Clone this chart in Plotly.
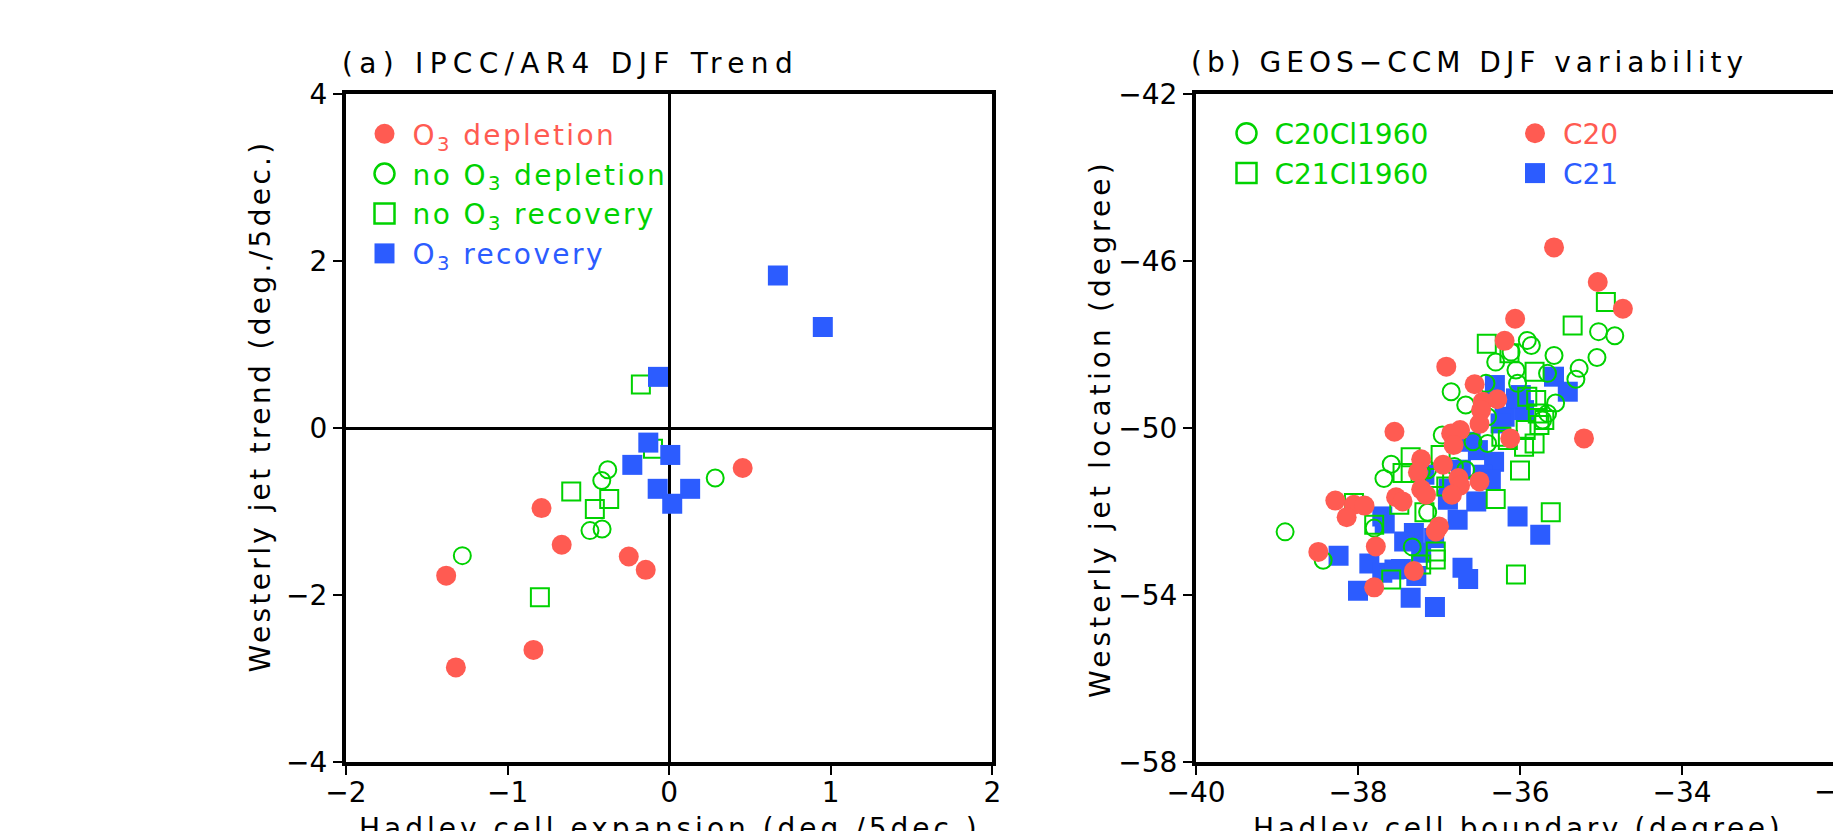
import json
import plotly.graph_objects as go

W, H = 1833, 831
FONT = "DejaVu Sans"
FS = 28
RED = "#FF5B52"
BLUE = "#2C5CFF"
GREEN = "#00D200"

# ---------------- panel (a): IPCC/AR4 DJF trend ----------------
a_depl_x = [-1.38, -1.32, -0.84, -0.79, -0.665, -0.25, -0.145, 0.455]
a_depl_y = [-1.77, -2.87, -2.66, -0.96, -1.40, -1.54, -1.70, -0.48]
a_nodepl_x = [-1.28, -0.49, -0.415, -0.417, -0.38, 0.285]
a_nodepl_y = [-1.53, -1.23, -1.21, -0.63, -0.50, -0.60]
a_norec_x = [-0.80, -0.606, -0.46, -0.371, -0.175, -0.10]
a_norec_y = [-2.03, -0.76, -0.97, -0.852, 0.522, -0.25]
a_rec_x = [0.673, 0.951, -0.069, -0.129, 0.007, -0.228, -0.071, 0.130, 0.019]
a_rec_y = [1.828, 1.210, 0.613, -0.175, -0.323, -0.442, -0.729, -0.729, -0.908]

# ---------------- panel (b): GEOS-CCM DJF variability ----------------
c20_x = [-35.58, -35.04, -34.73, -36.06, -36.19, -36.91, -36.56, -36.28, -36.46, -36.48,
         -36.50, -37.55, -36.12, -35.21, -36.74, -36.85, -36.82, -37.22, -36.95, -37.26,
         -36.76, -36.50, -36.74, -37.22, -37.16, -36.84, -37.53, -37.45, -38.28, -38.05,
         -37.92, -38.14, -37.00, -37.04, -37.78, -38.49, -37.31, -37.80]
c20_y = [-45.67, -46.50, -47.14, -47.38, -47.91, -48.53, -48.95, -49.31, -49.37, -49.57,
         -49.90, -50.09, -50.25, -50.25, -50.05, -50.13, -50.41, -50.75, -50.88, -51.06,
         -51.20, -51.28, -51.38, -51.47, -51.60, -51.60, -51.66, -51.76, -51.74, -51.84,
         -51.86, -52.14, -52.36, -52.48, -52.84, -52.97, -53.43, -53.82]
c21_x = [-36.31, -35.99, -35.95, -36.19, -36.24, -35.58, -35.41, -36.05, -36.61, -36.52,
         -36.32, -36.46, -36.73, -36.89, -36.54, -36.77, -37.18, -36.03, -35.75, -37.70,
         -37.67, -37.31, -37.06, -37.43, -37.22, -38.24, -37.86, -37.70, -37.47, -37.28,
         -36.71, -36.64, -38.00, -37.35, -37.05, -37.55, -36.36, -36.88]
c21_y = [-48.97, -49.21, -49.57, -49.73, -49.89, -48.77, -49.13, -49.29, -50.33, -50.53,
         -50.81, -51.12, -51.00, -51.72, -51.76, -52.20, -51.12, -52.12, -52.56, -52.12,
         -52.29, -52.52, -52.64, -52.72, -52.99, -53.06, -53.25, -53.47, -53.38, -53.55,
         -53.35, -53.62, -53.90, -54.07, -54.29, -53.39, -51.24, -51.45]
c21cl_x = [-35.35, -34.94, -36.41, -36.13, -35.82, -35.80, -35.78, -35.76, -35.93, -35.82,
           -35.95, -36.15, -36.00, -36.30, -35.62, -36.05, -37.35, -36.98, -37.35, -37.06,
           -38.05, -37.49, -37.80, -37.18, -37.04, -37.04, -37.59, -36.91, -35.91, -35.70,
           -36.23, -37.45, -37.22]
c21cl_y = [-47.54, -46.98, -47.98, -48.21, -48.65, -49.33, -49.65, -49.93, -50.05, -50.37,
           -50.45, -50.29, -51.02, -51.70, -52.02, -53.51, -50.70, -50.65, -51.08, -51.20,
           -51.80, -51.84, -52.32, -52.02, -52.96, -53.15, -53.63, -51.40, -49.25, -49.81,
           -50.21, -51.08, -53.27]
c20cl_x = [-38.90, -38.43, -37.80, -37.33, -37.14, -37.68, -37.59, -37.22, -36.96, -36.85,
           -36.67, -36.42, -36.30, -36.40, -36.40, -36.58, -36.67, -36.81, -37.14, -36.11,
           -35.91, -35.86, -36.05, -36.03, -35.58, -35.66, -35.27, -35.31, -35.56, -35.66,
           -35.72, -35.03, -34.83, -35.05]
c20cl_y = [-52.49, -53.17, -52.40, -52.85, -52.02, -51.21, -50.87, -51.04, -50.17, -49.13,
           -49.45, -48.93, -48.42, -49.73, -50.37, -50.33, -51.00, -50.92, -51.00, -48.18,
           -47.90, -48.02, -48.61, -48.93, -48.26, -48.69, -48.57, -48.83, -49.40, -49.65,
           -49.81, -47.69, -47.79, -48.31]

a_xticks = [-2, -1, 0, 1, 2]
a_yticks = [-4, -2, 0, 2, 4]
b_xticks = [-40, -38, -36, -34]
b_yticks = [-58, -54, -50, -46, -42]


def px(xp):
    return xp / W


def py(yp):
    return 1 - yp / H


def lab(text, color):
    return "<span style='color:%s'>%s</span>" % (color, text)


fig = go.Figure()

filled_circle = dict(symbol="circle", size=20, line=dict(width=0))
open_circle = dict(symbol="circle-open", size=17, line=dict(width=2))
open_square = dict(symbol="square-open", size=18, line=dict(width=2))
filled_square = dict(symbol="square", size=20, line=dict(width=0))

# panel (a) traces
fig.add_trace(go.Scatter(x=a_nodepl_x, y=a_nodepl_y, mode="markers", xaxis="x", yaxis="y",
                         name=lab("no O<sub>3</sub> depletion", GREEN), legend="legend",
                         legendgroup="a2", legendrank=2,
                         marker=dict(color=GREEN, **open_circle)))
fig.add_trace(go.Scatter(x=a_norec_x, y=a_norec_y, mode="markers", xaxis="x", yaxis="y",
                         name=lab("no O<sub>3</sub> recovery", GREEN), legend="legend",
                         legendgroup="a3", legendrank=3,
                         marker=dict(color=GREEN, **open_square)))
fig.add_trace(go.Scatter(x=a_depl_x, y=a_depl_y, mode="markers", xaxis="x", yaxis="y",
                         name=lab("O<sub>3</sub> depletion", RED), legend="legend",
                         legendgroup="a1", legendrank=1,
                         marker=dict(color=RED, **filled_circle)))
fig.add_trace(go.Scatter(x=a_rec_x, y=a_rec_y, mode="markers", xaxis="x", yaxis="y",
                         name=lab("O<sub>3</sub> recovery", BLUE), legend="legend",
                         legendgroup="a4", legendrank=4,
                         marker=dict(color=BLUE, **filled_square)))

# panel (b) traces
fig.add_trace(go.Scatter(x=c21_x, y=c21_y, mode="markers", xaxis="x2", yaxis="y2",
                         name=lab("C21", BLUE), legend="legend3",
                         legendgroup="b4", legendrank=2,
                         marker=dict(color=BLUE, **filled_square)))
fig.add_trace(go.Scatter(x=c21cl_x, y=c21cl_y, mode="markers", xaxis="x2", yaxis="y2",
                         name=lab("C21Cl1960", GREEN), legend="legend2",
                         legendgroup="b2", legendrank=2,
                         marker=dict(color=GREEN, **open_square)))
fig.add_trace(go.Scatter(x=c20cl_x, y=c20cl_y, mode="markers", xaxis="x2", yaxis="y2",
                         name=lab("C20Cl1960", GREEN), legend="legend2",
                         legendgroup="b1", legendrank=1,
                         marker=dict(color=GREEN, **open_circle)))
fig.add_trace(go.Scatter(x=c20_x, y=c20_y, mode="markers", xaxis="x2", yaxis="y2",
                         name=lab("C20", RED), legend="legend3",
                         legendgroup="b3", legendrank=1,
                         marker=dict(color=RED, **filled_circle)))

tickfont = dict(family=FONT, size=FS, color="black")
common_ax = dict(showline=True, linewidth=4, linecolor="black", mirror=True,
                 ticks="outside", ticklen=9, tickwidth=2, tickcolor="black",
                 showgrid=False, tickfont=tickfont, fixedrange=True, automargin=False)

ydom = [py(761.7), py(94.3)]
fig.update_layout(
    xaxis=dict(domain=[px(346), px(992.3)], range=[-2, 2], tickvals=a_xticks,
               zeroline=True, zerolinewidth=3, zerolinecolor="black", anchor="y",
               ticklabelstandoff=-6, **common_ax),
    yaxis=dict(domain=ydom, range=[-4, 4], tickvals=a_yticks,
               zeroline=True, zerolinewidth=3, zerolinecolor="black", anchor="x",
               **common_ax),
    xaxis2=dict(domain=[px(1196), 1.0], range=[-40, -40 + (W - 1196) / 81.0],
                tickvals=b_xticks, zeroline=False, anchor="y2",
                ticklabelstandoff=-6, **common_ax),
    yaxis2=dict(domain=ydom, range=[-58, -42], tickvals=b_yticks,
                zeroline=False, anchor="x2", **common_ax),
)

legfont = dict(family=FONT, size=FS, color="black")
legbase = dict(xanchor="left", yanchor="top", bgcolor="rgba(0,0,0,0)", borderwidth=0,
               font=legfont, itemsizing="trace", itemwidth=46, traceorder="grouped",
               tracegroupgap=0.5, itemclick=False, itemdoubleclick=False)
fig.update_layout(
    legend=dict(x=px(356.5), y=py(109), **legbase),
    legend2=dict(x=px(1218.5), y=py(108.5), **legbase),
    legend3=dict(x=px(1507), y=py(108.5), **legbase),
)

annfont = dict(family=FONT, size=FS, color="black")
anns = []
spacing = []


def add_ann(text, x, y, xanchor="left", yanchor="middle", angle=0, sp=0.0):
    anns.append(dict(text=text, x=x, y=y, xref="paper", yref="paper", xanchor=xanchor,
                     yanchor=yanchor, textangle=angle, align="left", showarrow=False,
                     font=annfont, borderpad=0, borderwidth=0))
    spacing.append(sp)


add_ann("(a) IPCC/AR4 DJF Trend", px(342), py(63.5), sp=6.3)
add_ann("(b) GEOS\u2212CCM DJF variability", px(1191), py(63), sp=5.0)
add_ann("Hadley cell expansion (deg./5dec.)", px(359), py(828), sp=4.0)
add_ann("Hadley cell boundary (degree)", px(1253), py(828), sp=3.6)
add_ann("Westerly jet trend (deg./5dec.)", px(260), py(673), xanchor="center",
        yanchor="bottom", angle=-90, sp=3.35)
add_ann("Westerly jet location (degree)", px(1100), py(698), xanchor="center",
        yanchor="bottom", angle=-90, sp=4.1)
add_ann("\u221232", px(1843), py(791.7), xanchor="center", sp=0)

fig.update_layout(
    annotations=anns,
    width=W, height=H, autosize=False,
    margin=dict(l=0, r=0, t=0, b=0, pad=0, autoexpand=False),
    paper_bgcolor="white", plot_bgcolor="white",
    showlegend=True,
    font=dict(family=FONT, size=FS, color="black"),
)

# typographic tuning (letter spacing of the wide plotter font, legend symbol size)
rules = []
for i, s in enumerate(spacing):
    if s:
        rules.append('g.annotation[data-index="%d"] text { letter-spacing: %.2fpx; }' % (i, s))
rules.append('.legendtext { letter-spacing: 2.4px; }')
rules.append('text.legendtext[data-unformatted*=">C2"] { letter-spacing: 4.2px !important; }')
rules.append('.scrollbox, .scrollbox *, [clip-path*="legend"] { clip-path: none !important; }')
rules.append('.legendpoints path.scatterpts { transform: translate(28px, 0px) scale(1.25); }')
css = "\n".join(rules)

post = """
(function(){
  var st = document.createElement('style');
  st.textContent = CSS_TEXT;
  document.head.appendChild(st);
  var gd = document.getElementById('{plot_id}');
  gd.querySelectorAll('[clip-path]').forEach(function(e){
    var v = e.getAttribute('clip-path') || '';
    if (v.indexOf('legend') >= 0) { e.removeAttribute('clip-path'); }
  });
})();
""".replace("CSS_TEXT", json.dumps(css))

fig.write_html("out.html", post_script=post, config={"staticPlot": True})
